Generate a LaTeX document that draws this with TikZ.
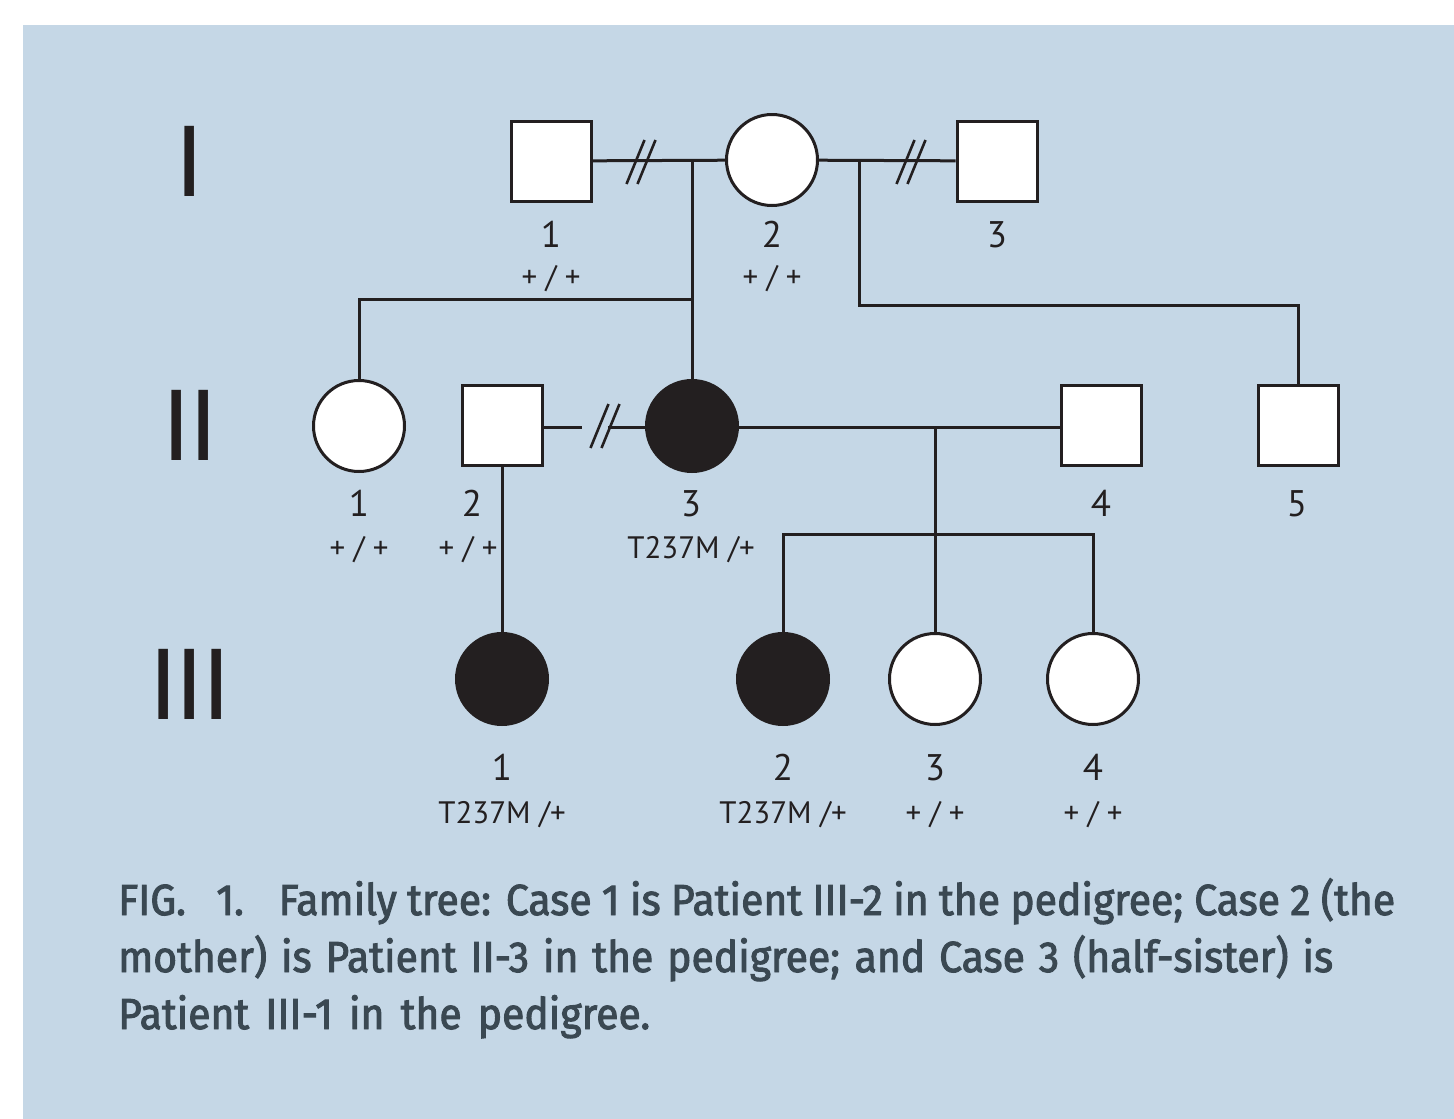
\documentclass[tikz,border=0pt]{standalone}
\usepackage{fontspec}
\newfontfamily\pedfont{PT Sans}
\newfontfamily\romfont{Liberation Sans}
\newfontfamily\capfont[FakeStretch=0.94,FakeBold=2.2,WordSpace=1.15]{Fira Sans}
\definecolor{panel}{RGB}{197,215,230}
\definecolor{ink}{HTML}{231F20}
\definecolor{captext}{HTML}{3A4852}
\tikzset{
  male/.style={draw=ink, line width=3pt, fill=white, rectangle, minimum size=80pt, inner sep=0pt},
  female/.style={draw=ink, line width=3pt, fill=white, circle, minimum size=91pt, inner sep=0pt},
  affected/.style={fill=ink},
  link/.style={draw=ink, line width=3pt},
  idnum/.style={anchor=base, inner sep=0pt, text=ink, font=\pedfont\fontsize{37}{40}\selectfont},
  geno/.style={anchor=base, inner sep=0pt, text=ink, font=\pedfont\fontsize{31}{34}\selectfont},
  gen/.style={anchor=base, inner sep=0pt, text=ink, font=\romfont\fontsize{102}{110}\selectfont},
  capline/.style={anchor=base west, inner sep=0pt, text=captext, font=\capfont\fontsize{43.5}{50}\selectfont},
  dblslash/.pic={\draw[ink, line width=2.6pt] (-14.5,22) -- (3.5,-22) (-3.5,22) -- (14.5,-22);}
}
\begin{document}
\begin{tikzpicture}[x=1pt,y=-1pt]
  % page and tinted panel
  \useasboundingbox (0,0) rectangle (1454,1119);
  \fill[white] (0,0) rectangle (1454,1119);
  \fill[panel] (23,25) rectangle (1454,1119);

  % generation numerals
  \node[gen] (g1) at (190,196) {I};
  \node[gen] (g2) at (190,460) {I\kern-2pt I};
  \node[gen] (g3) at (190,719) {I\kern-2pt I\kern-2pt I};

  % generation I
  \node[male]   (i1) at (551,161) {};
  \node[female] (i2) at (772,160) {};
  \node[male]   (i3) at (997,161) {};

  % generation II
  \node[female]          (ii1) at (359,426) {};
  \node[male]            (ii2) at (502,425) {};
  \node[female,affected] (ii3) at (692,426) {};
  \node[male]            (ii4) at (1101,425) {};
  \node[male]            (ii5) at (1298,425) {};

  % generation III
  \node[female,affected] (iii1) at (502,679) {};
  \node[female,affected] (iii2) at (783,679) {};
  \node[female]          (iii3) at (935,679) {};
  \node[female]          (iii4) at (1093,679) {};

  % junction points of the line system
  \coordinate (m1) at (692,160);
  \coordinate (s1) at (692,299);
  \coordinate (m2) at (859,160);
  \coordinate (s2) at (859,305);
  \coordinate (gapL) at (582,427);
  \coordinate (gapR) at (608,427);
  \coordinate (m3) at (935,427);
  \coordinate (s3) at (935,534);

  % couples (separated unions marked with a double slash)
  \draw[link] (i1) -- (i2);
  \draw[link] (i2) -- (i3);
  \draw[link] (ii2.east |- gapL) -- (gapL);
  \draw[link] (gapR) -- (ii3.west |- gapR);
  \draw[link] (ii3.east |- m3) -- (ii4.west |- m3);
  \pic at (641,162) {dblslash};
  \pic at (911,162) {dblslash};
  \pic at (605,426) {dblslash};

  % lines of descent
  \draw[link] (m1) -- (ii3);
  \draw[link] (ii1) |- (s1);
  \draw[link] (m2) -- (s2) -| (ii5);
  \draw[link] (ii2) -- (iii1);
  \draw[link] (m3) -- (iii3);
  \draw[link] (iii2) |- (s3) -| (iii4);

  % individual numbers and genotypes
  \node[idnum] (n-i1) at (551,247) {1};
  \node[geno]  (t-i1) at (551,287) {+ / +};
  \node[idnum] (n-i2) at (772,247) {2};
  \node[geno]  (t-i2) at (772,287) {+ / +};
  \node[idnum] (n-i3) at (997,247) {3};

  \node[idnum] (n-ii1) at (359,516) {1};
  \node[geno]  (t-ii1) at (359,558) {+ / +};
  \node[idnum] (n-ii2) at (472,516) {2};
  \node[geno]  (t-ii2) at (468,558) {+ / +};
  \node[idnum] (n-ii3) at (691,516) {3};
  \node[geno]  (t-ii3) at (691,558) {T237M /+};
  \node[idnum] (n-ii4) at (1101,516) {4};
  \node[idnum] (n-ii5) at (1297,516) {5};

  \node[idnum] (n-iii1) at (502,780) {1};
  \node[geno]  (t-iii1) at (502,823) {T237M /+};
  \node[idnum] (n-iii2) at (783,780) {2};
  \node[geno]  (t-iii2) at (783,823) {T237M /+};
  \node[idnum] (n-iii3) at (935,780) {3};
  \node[geno]  (t-iii3) at (935,823) {+ / +};
  \node[idnum] (n-iii4) at (1093,780) {4};
  \node[geno]  (t-iii4) at (1093,823) {+ / +};

  % caption, each line spread to its measure
  \node[capline] (cap1) at (118,915) {\makebox[1277pt][s]{FIG.\hspace{0.7em}1.\hspace{0.8em}Family tree: Case 1 is Patient III-2 in the pedigree; Case 2 (the}};
  \node[capline] (cap2) at (118,972) {\makebox[1215pt][s]{mother) is Patient II-3 in the pedigree; and Case 3 (half-sister) is}};
  \node[capline] (cap3) at (118,1029) {\makebox[532pt][s]{Patient III-1 in the pedigree.}};
\end{tikzpicture}
\end{document}
